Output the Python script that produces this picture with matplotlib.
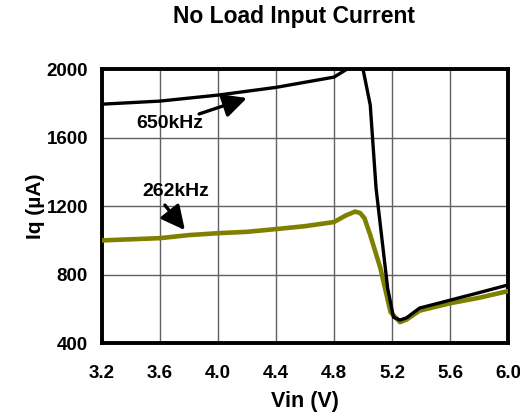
import matplotlib.pyplot as plt

plt.rcParams['font.family'] = ['Liberation Sans', 'DejaVu Sans']
plt.rcParams['font.weight'] = 'bold'

# 650kHz curve (black)
vin_650 = [3.2, 3.6, 4.0, 4.4, 4.8, 4.9, 4.96, 5.0, 5.05, 5.09, 5.17, 5.21, 5.255, 5.3, 5.39, 5.6, 5.8, 6.0]
iq_650 = [1795, 1813, 1848, 1893, 1953, 2005, 2060, 2000, 1790, 1305, 721, 552, 535, 548, 605, 651, 695, 740]

# 262kHz curve (olive)
vin_262 = [3.2, 3.6, 3.8, 4.0, 4.2, 4.4, 4.6, 4.8, 4.88, 4.945, 4.98, 5.01, 5.05, 5.12, 5.19, 5.255, 5.3, 5.39, 5.6, 5.8, 6.0]
iq_262 = [1000, 1013, 1031, 1042, 1050, 1066, 1083, 1107, 1145, 1168, 1160, 1130, 1031, 838, 581, 523, 538, 590, 633, 665, 704]

xticks = [3.2, 3.6, 4.0, 4.4, 4.8, 5.2, 5.6, 6.0]
yticks = [400, 800, 1200, 1600, 2000]

fig = plt.figure(figsize=(5.2, 4.16), dpi=100)
ax = fig.add_axes([0.196, 0.175, 0.781, 0.659])

ax.plot(vin_262, iq_262, color='#808000', linewidth=3.3, solid_capstyle='round', zorder=3)
ax.plot(vin_650, iq_650, color='black', linewidth=2.4, zorder=4)

ax.set_xlim(3.2, 6.0)
ax.set_ylim(400, 2000)
ax.set_xticks(xticks)
ax.set_xticklabels([f'{v:.1f}' for v in xticks])
ax.set_yticks(yticks)
ax.tick_params(axis='both', length=0, labelsize=13.5)
ax.tick_params(axis='x', pad=16)
ax.tick_params(axis='y', pad=10)
ax.grid(True, color='#606060', linewidth=1.0)
ax.set_axisbelow(True)
for s in ax.spines.values():
    s.set_linewidth(2.8)

ax.set_xlabel('Vin (V)', fontsize=15.5, fontweight='bold', labelpad=6)
ax.set_ylabel('Iq (µA)', fontsize=15, fontweight='bold', labelpad=1)

# curve labels
ax.text(3.669, 1682, '650kHz', fontsize=14, fontweight='bold', ha='center', va='center')
ax.text(3.71, 1288, '262kHz', fontsize=14, fontweight='bold', ha='center', va='center')
arrow_kw = dict(arrowstyle='-|>,head_length=0.8,head_width=0.4', color='black', lw=2.4,
                mutation_scale=18, shrinkA=0, shrinkB=0)
ax.annotate('', xy=(4.2, 1831), xytext=(3.87, 1738), arrowprops=arrow_kw)
ax.annotate('', xy=(3.772, 1060), xytext=(3.634, 1206), arrowprops=arrow_kw)

fig.text(0.565, 0.961, 'No Load Input Current', ha='center', va='center', fontsize=16.5, fontweight='bold')

fig.savefig('out.png', dpi=100)
